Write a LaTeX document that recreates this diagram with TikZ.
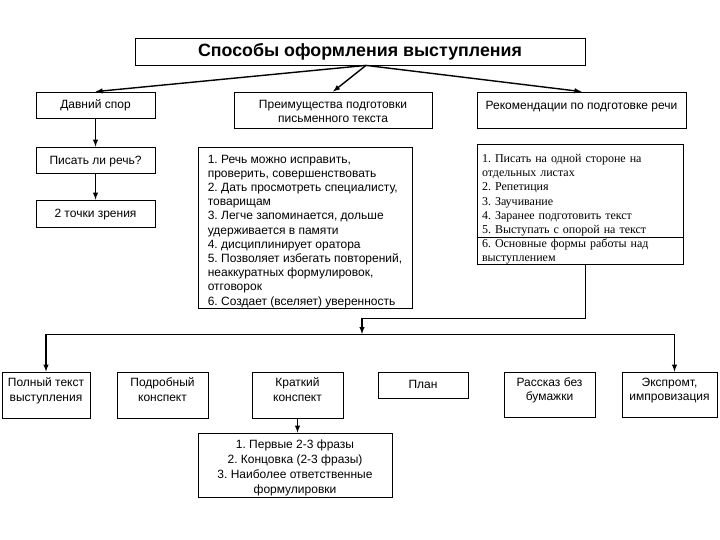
\documentclass[tikz,border=0pt]{standalone}
\usepackage{fontspec}
\setmainfont{Liberation Sans}
\newfontfamily\timesfont{Liberation Serif}
\frenchspacing
\begin{document}
\begin{tikzpicture}[x=1pt,y=-1pt,
  box/.style={align=center,rectangle,draw,line width=0.8pt,inner sep=0pt,font=\fontsize{12}{14.5}\selectfont},
  arr/.style={->,>=latex,line width=1.4pt},
  bus/.style={line width=0.8pt}]

\useasboundingbox (0,0) rectangle (720,540);

\draw(360,51.5) node[box,font=\bfseries\fontsize{17.8}{20}\selectfont,minimum width=450pt,minimum height=27pt,text height=19pt,text depth=8pt](1){Способы оформления выступления};

\draw(95.5,105) node[box,minimum width=119pt,minimum height=26pt,text height=17pt,text depth=9pt](2){Давний спор};

\draw(95.5,160) node[box,minimum width=119pt,minimum height=26pt,text height=17.5pt,text depth=8.5pt](3){Писать ли речь?};

\draw(95.5,213.5) node[box,minimum width=119pt,minimum height=27pt,text height=17.5pt,text depth=9.5pt](4){2 точки зрения};

\draw(333,110) node[box,font=\fontsize{12}{14}\selectfont,minimum width=198pt,minimum height=36pt](5){\rule{0pt}{10.5pt}Преимущества подготовки\\письменного текста};

\draw(305,227.5) node[box,align=left,font=\fontsize{12}{14.2}\selectfont,minimum width=214pt,minimum height=161pt](6){
\rule{0pt}{15.5pt}1. Речь можно исправить,\\
проверить, совершенствовать\\
2. Дать просмотреть специалисту,\\
товарищам\\
3. Легче запоминается, дольше\\
удерживается в памяти\\
4. дисциплинирует оратора\\
5. Позволяет избегать повторений,\\
неаккуратных формулировок,\\
отговорок\\
6. Создает (вселяет) уверенность};

\draw(581.5,110) node[box,minimum width=209pt,minimum height=36pt,text height=17.5pt,text depth=18.5pt](7){Рекомендации по подготовке речи};

\draw(580,204.5) node[box,align=left,font=\timesfont\fontsize{12}{14.2}\selectfont,text width=196pt,inner xsep=5pt,minimum height=117pt](8){
\rule{0pt}{18pt}1. Писать на одной стороне на\\
отдельных листах\\
2. Репетиция\\
3. Заучивание\\
4. Заранее подготовить текст\\
5. Выступать с опорой на текст\\
6. Основные формы работы над\\
выступлением};

\draw(46,395) node[box,minimum width=88pt,minimum height=46pt](9){\rule{0pt}{12pt}Полный текст\\выступления\\\mbox{}};

\draw(162.5,395) node[box,minimum width=91pt,minimum height=46pt](10){\rule{0pt}{12pt}Подробный\\конспект\\\mbox{}};

\draw(297.5,395) node[box,minimum width=91pt,minimum height=46pt](11){\rule{0pt}{12pt}Краткий\\конспект\\\mbox{}};

\draw(423,385) node[box,minimum width=90pt,minimum height=26pt,text height=16pt,text depth=10pt](12){План};

\draw(549.5,394.5) node[box,minimum width=91pt,minimum height=45pt](13){\rule{0pt}{12pt}Рассказ без\\бумажки\\\mbox{}};

\draw(669.5,394.5) node[box,minimum width=95pt,minimum height=45pt](14){\rule{0pt}{12pt}Экспромт,\\импровизация\\\mbox{}};

\draw(295,465) node[box,font=\fontsize{12}{15}\selectfont,minimum width=194pt,minimum height=64pt](15){\rule{0pt}{14.5pt}1. Первые 2-3 фразы\\2. Концовка (2-3 фразы)\\3. Наиболее ответственные\\формулировки};

\coordinate (16) at (362,318);
\coordinate (17) at (362,334);

\draw [bus] ([yshift=-32.5pt]8.west) -- ([yshift=-32.5pt]8.east);

\draw [arr] ([xshift=6pt]1.south) -- (2.north);
\draw [arr] ([xshift=6pt]1.south) -- (5.north);
\draw [arr] ([xshift=6pt]1.south) -- (7.north);
\draw [arr] (2.south) -- (3.north);
\draw [arr] (3.south) -- (4.north);
\draw [bus] ([xshift=5pt]8.south) |- (16);
\draw [arr] (16) -- (17);
\draw [bus] (9.north |- 17) -- ([xshift=5pt]14.north |- 17);
\draw [arr] (9.north |- 17) -- (9.north);
\draw [arr] ([xshift=5pt]14.north |- 17) -- ([xshift=5pt]14.north);
\draw [arr] (11.south) -- (11.south |- 15.north);

\end{tikzpicture}
\end{document}
